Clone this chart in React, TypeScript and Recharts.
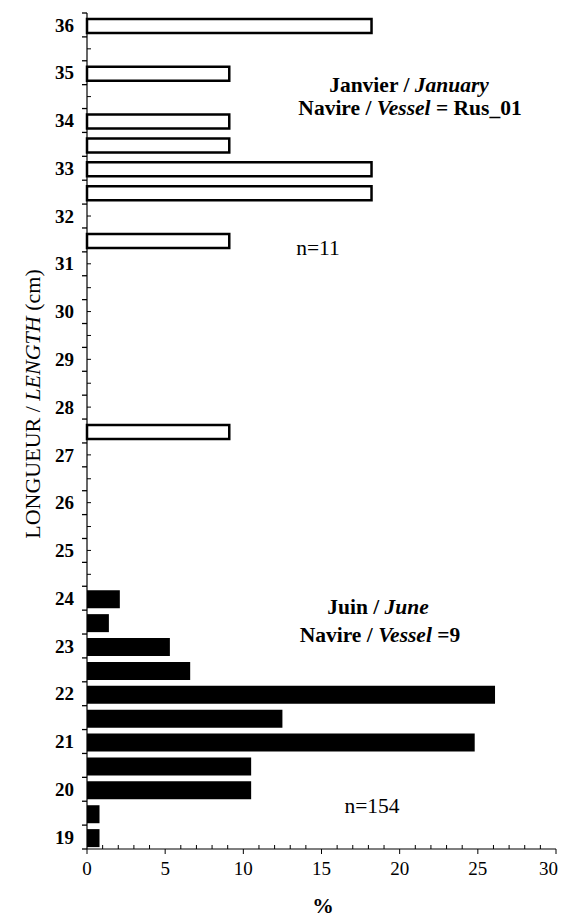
import { Bar, BarChart, XAxis, YAxis } from "recharts";

// length classes (cm), top to bottom
const lengthClasses = [
  36, 35.5, 35, 34.5, 34, 33.5, 33, 32.5, 32, 31.5, 31, 30.5, 30, 29.5, 29, 28.5, 28, 27.5,
  27, 26.5, 26, 25.5, 25, 24.5, 24, 23.5, 23, 22.5, 22, 21.5, 21, 20.5, 20, 19.5, 19,
];

// January, vessel Rus_01 (n=11)
const janLengths = [36, 35, 34, 33.5, 33, 32.5, 31.5, 27.5];
const janPercent = [18.2, 9.1, 9.1, 9.1, 18.2, 18.2, 9.1, 9.1];

// June, vessel 9 (n=154)
const juneLengths = [24, 23.5, 23, 22.5, 22, 21.5, 21, 20.5, 20, 19.5, 19];
const junePercent = [2.1, 1.4, 5.3, 6.6, 26.1, 12.5, 24.8, 10.5, 10.5, 0.8, 0.8];

const percentTicks = [0, 5, 10, 15, 20, 25, 30];
const percentMinorTicks = Array.from({ length: 31 }, (_, i) => i);

const rows = lengthClasses.map((len) => {
  const j = janLengths.indexOf(len);
  const u = juneLengths.indexOf(len);
  return {
    length: len,
    june: u >= 0 ? junePercent[u] : null,
    january: j >= 0 ? janPercent[j] : null,
  };
});

const W = 559;
const H = 906;
const MARGIN = { top: 5, right: 11, bottom: 35, left: 0 };
const X_AXIS_H = 30;
const BAND = (H - MARGIN.top - MARGIN.bottom - X_AXIS_H) / lengthClasses.length;
const FONT = "'Liberation Serif', 'Times New Roman', serif";

function LengthTick(props: any) {
  const { x, y, payload } = props;
  const v = payload.value as number;
  const row = rows.find((r) => r.length === v);
  const empty = !row || (row.june == null && row.january == null);
  return (
    <g>
      <line x1={x} x2={x - 5} y1={y + BAND / 2} y2={y + BAND / 2} stroke="#000" strokeWidth={1.3} />
      {v === lengthClasses[0] && (
        <line x1={x} x2={x - 5} y1={y - BAND / 2} y2={y - BAND / 2} stroke="#000" strokeWidth={1.3} />
      )}
      {empty && <line x1={x} x2={x + 4} y1={y} y2={y} stroke="#000" />}
      {Number.isInteger(v) && (
        <text
          x={x - 13}
          y={y}
          dy="0.35em"
          textAnchor="end"
          fontFamily={FONT}
          fontWeight="bold"
          fontSize={19}
          fill="#000"
        >
          {v}
        </text>
      )}
    </g>
  );
}

function PercentTick(props: any) {
  const { x, y, payload } = props;
  const v = payload.value as number;
  const major = percentTicks.includes(v);
  // the last label is pulled in a little so it stays inside the page
  const last = v === percentTicks[percentTicks.length - 1];
  return (
    <g>
      {major ? (
        <line x1={x} x2={x} y1={y} y2={y + 5} stroke="#000" />
      ) : (
        <line x1={x} x2={x} y1={y} y2={y - 4} stroke="#000" />
      )}
      {major && (
        <text
          x={last ? x + 2 : x}
          y={y + 19}
          dy="0.35em"
          textAnchor={last ? "end" : "middle"}
          fontFamily={FONT}
          fontSize={19}
          fill="#000"
        >
          {v}
        </text>
      )}
    </g>
  );
}

function Note({ x, y, children, bold = true }: { x: number; y: number; children: any; bold?: boolean }) {
  return (
    <div
      style={{
        position: "absolute",
        left: x - 8,
        top: y - 8,
        transform: "translate(-50%, -50%)",
        whiteSpace: "nowrap",
        lineHeight: 1,
        fontFamily: FONT,
        fontSize: 21.5,
        fontWeight: bold ? "bold" : "normal",
        color: "#000",
      }}
    >
      {children}
    </div>
  );
}

export default function App() {
  return (
    <div style={{ position: "relative", width: W, height: H, background: "#fff" }}>
      <style>{"html,body{overflow:hidden}"}</style>
      <BarChart width={W} height={H} data={rows} layout="vertical" margin={MARGIN} barGap={-16}>
        <XAxis
          type="number"
          domain={[0, 30]}
          ticks={percentMinorTicks}
          interval={0}
          height={X_AXIS_H}
          tickSize={0}
          tickMargin={0}
          tickLine={false}
          axisLine={{ stroke: "#000", strokeWidth: 1.2 }}
          tick={<PercentTick />}
        />
        <YAxis
          type="category"
          dataKey="length"
          interval={0}
          width={79}
          tickSize={0}
          tickMargin={0}
          tickLine={false}
          axisLine={{ stroke: "#000", strokeWidth: 1.2 }}
          tick={<LengthTick />}
        />
        <Bar dataKey="june" fill="#000" barSize={18} isAnimationActive={false} />
        <Bar
          dataKey="january"
          fill="#fff"
          stroke="#000"
          strokeWidth={2.5}
          barSize={14}
          isAnimationActive={false}
        />
      </BarChart>

      <Note x={409} y={86}>
        Janvier / <i>January</i>
      </Note>
      <Note x={410} y={109}>
        Navire / <i>Vessel</i> = Rus_01
      </Note>
      <Note x={318} y={249} bold={false}>
        n=11
      </Note>
      <Note x={378} y={608}>
        Juin / <i>June</i>
      </Note>
      <Note x={380} y={636}>
        Navire / <i>Vessel</i> =9
      </Note>
      <Note x={372} y={807} bold={false}>
        n=154
      </Note>
      <Note x={323} y={907}>
        %
      </Note>
      <div
        style={{
          position: "absolute",
          left: 33 - 8,
          top: 404 - 8,
          transform: "translate(-50%, -50%) rotate(-90deg)",
          whiteSpace: "nowrap",
          lineHeight: 1,
          fontFamily: FONT,
          fontSize: 22,
          color: "#000",
        }}
      >
        LONGUEUR / <i>LENGTH</i> (cm)
      </div>
    </div>
  );
}
